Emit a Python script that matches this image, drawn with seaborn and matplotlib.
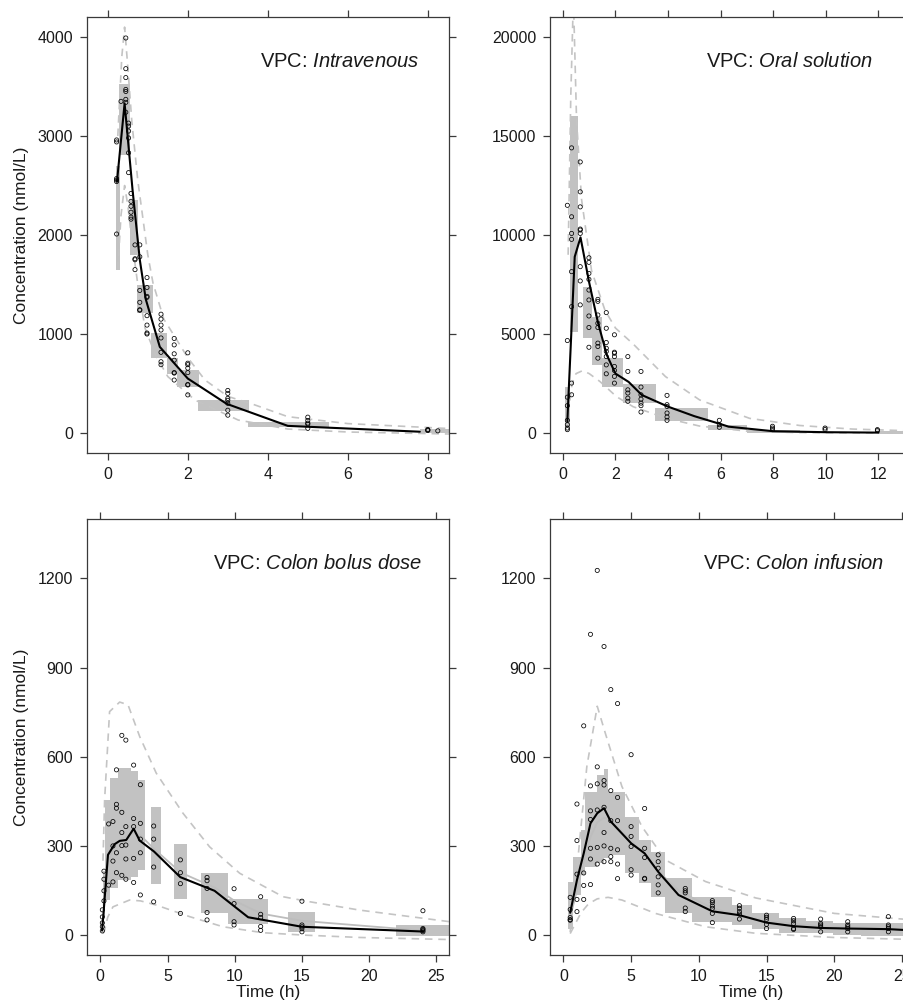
import pandas as pd
import seaborn as sns
import matplotlib.pyplot as plt

# ---------------- Intravenous ----------------
iv_obs_time = [0.22, 0.33, 0.45, 0.52, 0.58, 0.68, 0.8, 0.98, 1.33, 1.66, 2.0, 3.0, 5.0, 8.0, 8.25]
iv_obs_conc = [[2960, 2940, 2570, 2555, 2540, 2010], [3350],
               [3990, 3680, 3590, 3470, 3450, 3370, 3340, 3240],
               [3130, 3100, 3050, 2980, 2830, 2630], [2420, 2340, 2290, 2230, 2180, 2160],
               [1900, 1760, 1750, 1650], [1900, 1780, 1440, 1320, 1245, 1240],
               [1570, 1470, 1380, 1370, 1185, 1090, 1010, 1000],
               [1200, 1150, 1090, 1040, 960, 815, 720, 690],
               [955, 890, 800, 735, 610, 605, 535],
               [810, 705, 690, 655, 610, 490, 485, 385],
               [430, 400, 350, 330, 300, 230, 180], [160, 125, 100, 90, 47], [35, 30, 25], [22]]
iv_med_time = [0.23, 0.42, 0.62, 0.8, 0.95, 1.3, 2.0, 2.97, 4.5, 7.8]
iv_med_conc = [2540, 3330, 2450, 1750, 1350, 870, 550, 295, 72, 13]
iv_hi_time = [0.25, 0.35, 0.42, 0.5, 0.6, 0.75, 1.0, 1.13, 1.4, 1.68, 2.0, 2.43, 3.0, 3.68, 4.5, 6.0, 8.53]
iv_hi_conc = [3000, 3800, 4100, 3700, 3150, 2550, 1800, 1515, 1150, 970, 760, 535, 370, 283, 165, 95, 45]
iv_lo_time = [0.25, 0.33, 0.42, 0.5, 0.6, 0.75, 0.93, 1.2, 1.5, 2.18, 3.26, 4.5, 6.0, 8.53]
iv_lo_conc = [1650, 2200, 2500, 2300, 1950, 1500, 1060, 780, 570, 333, 131, 40, 10, -10]
iv_bin_left = [0.2, 0.28, 0.55, 0.73, 1.07, 1.47, 1.74, 2.26, 3.5, 7.8]
iv_bin_right = [0.3, 0.55, 0.75, 1.12, 1.49, 1.76, 2.28, 3.52, 5.52, 8.6]
iv_bin_low = [1650, 2810, 1800, 1210, 755, 596, 460, 225, 64, 0]
iv_bin_high = [2700, 3525, 2350, 1495, 1007, 757, 636, 333, 114, 37]

# ---------------- Oral solution ----------------
os_obs_time = [0.17, 0.33, 0.66, 0.99, 1.33, 1.65, 1.96, 2.47, 2.97, 3.96, 5.95, 7.97, 9.97, 11.96]
os_obs_conc = [[170, 250, 420, 640, 1380, 1810, 4670, 11500],
               [14400, 10920, 10080, 9780, 8150, 6380, 2520, 1930],
               [13690, 12180, 11420, 10300, 10250, 10080, 8400, 7680, 6470],
               [8850, 8620, 8060, 7760, 7220, 6720, 5910, 5330, 4330],
               [6750, 6650, 5960, 5540, 5330, 4540, 4370, 3780],
               [6080, 5290, 4570, 4280, 4120, 3860, 3440, 2990],
               [4960, 4080, 4030, 3860, 3360, 3160, 2860, 2520],
               [3860, 3110, 2180, 2020, 1760, 1600],
               [3110, 2320, 1930, 1710, 1510, 1380, 1060],
               [1900, 1430, 1340, 1010, 810, 640],
               [640, 420, 290], [340, 250, 170], [250, 170], [170, 120]]
os_med_time = [0.17, 0.45, 0.67, 1.0, 1.33, 1.67, 2.0, 2.5, 3.0, 4.0, 5.0, 6.0, 6.3, 8.0, 10.0, 12.0]
os_med_conc = [600, 8900, 9880, 7600, 5600, 3940, 3000, 2580, 1920, 1330, 850, 450, 320, 90, 40, 20]
os_hi_time = [0.2, 0.3, 0.4, 0.52, 0.71, 1.09, 1.6, 2.0, 2.67, 3.9, 5.2, 7.1, 9.0, 11.0, 13.2]
os_hi_conc = [9000, 17000, 22000, 15800, 11800, 8200, 6200, 5300, 4500, 2850, 1670, 740, 380, 200, 110]
os_lo_time = [0.17, 0.25, 0.35, 0.5, 0.75, 1.0, 1.41, 2.04, 2.67, 3.94, 5.2, 7.1, 9.0, 13.2]
os_lo_conc = [300, 1500, 2500, 3000, 3150, 3000, 2600, 1835, 1330, 740, 350, 80, 20, 0]
os_bin_left = [0.08, 0.28, 0.75, 1.11, 1.5, 2.28, 3.5, 5.5, 7.0, 12.0]
os_bin_right = [0.28, 0.56, 1.11, 1.5, 2.28, 3.53, 5.5, 7.0, 9.0, 13.2]
os_bin_low = [300, 5120, 4780, 3430, 2300, 1500, 620, 150, 20, -50]
os_bin_high = [2300, 16000, 7390, 5880, 3800, 2480, 1250, 400, 150, 80]

# ---------------- Colon bolus dose ----------------
cb_obs_time = [0.15, 0.27, 0.62, 0.94, 1.2, 1.6, 1.9, 2.48, 2.98, 3.97, 5.96, 7.94, 9.95, 11.93, 15.0, 24.0]
cb_obs_conc = [[85, 61, 41, 28, 14], [215, 188, 149, 115], [374, 168], [382, 300, 249, 179],
               [556, 440, 427, 277, 210], [672, 413, 345, 301, 201], [656, 365, 303, 256, 188],
               [572, 392, 365, 258, 177], [506, 376, 323, 277, 135], [367, 323, 229, 112],
               [253, 210, 173, 73], [194, 183, 157, 76, 51], [156, 106, 45, 34],
               [129, 70, 59, 29, 16], [114, 34, 28, 22, 11], [82, 22, 19, 15, 11]]
cb_med_time = [0.13, 0.25, 0.57, 1.07, 1.44, 1.93, 2.48, 2.93, 4.0, 5.95, 8.5, 11.0, 12.0, 15.0, 24.0]
cb_med_conc = [15, 80, 270, 306, 317, 320, 358, 318, 281, 195, 149, 60, 52, 28, 12]
cb_sim_time = [0.25, 0.57, 1.07, 1.5, 2.0, 2.5, 3.0, 4.0, 6.0, 8.5, 10.0, 12.0, 15.0, 24.0]
cb_sim_conc = [100, 250, 300, 320, 335, 345, 335, 290, 210, 160, 115, 72, 48, 15]
cb_hi_time = [0.2, 0.32, 0.69, 1.44, 2.06, 2.93, 4.16, 6.15, 8.13, 10.37, 13.6, 15.6, 19.3, 26.0]
cb_hi_conc = [250, 455, 752, 784, 775, 668, 545, 410, 297, 208, 129, 112, 84, 45]
cb_lo_time = [0.2, 0.32, 0.55, 0.94, 2.18, 3.0, 4.16, 6.65, 9.13, 12.1, 15.1, 19.3, 26.0]
cb_lo_conc = [5, 17, 60, 95, 118, 115, 101, 62, 28, 8, 0, -8, -15]
cb_bin_left = [0.17, 0.35, 0.75, 1.31, 2.26, 2.8, 3.74, 5.46, 7.5, 9.47, 14.0, 22.0]
cb_bin_right = [0.35, 0.75, 1.31, 2.26, 2.8, 3.3, 4.54, 6.47, 9.47, 12.48, 16.0, 26.0]
cb_bin_low = [60, 118, 157, 185, 194, 219, 172, 122, 73, 36, 11, -3]
cb_bin_high = [215, 455, 528, 561, 553, 522, 432, 306, 208, 120, 77, 34]

# ---------------- Colon infusion ----------------
ci_obs_time = [0.5, 1.0, 1.5, 2.0, 2.5, 3.0, 3.5, 4.0, 5.0, 6.0, 7.0, 9.0, 11.0, 13.0, 15.0, 17.0, 19.0, 21.0, 24.0]
ci_obs_conc = [[127, 86, 59, 52, 50], [441, 318, 205, 120, 79], [704, 209, 167, 120],
               [1012, 502, 418, 389, 292, 256, 170], [1227, 566, 509, 421, 295, 239],
               [971, 520, 505, 430, 345, 300, 247], [826, 486, 385, 292, 264, 247],
               [779, 463, 385, 287, 239, 190], [607, 365, 332, 298, 220, 202],
               [426, 292, 261, 191, 189], [270, 247, 225, 196, 169, 142],
               [157, 149, 142, 91, 79], [116, 109, 98, 90, 73, 42], [99, 90, 79, 71, 54],
               [67, 60, 53, 36, 22], [56, 48, 39, 22, 19], [54, 39, 34, 28, 11],
               [45, 34, 28, 22, 11], [62, 34, 28, 22, 11]]
ci_med_time = [0.5, 1.0, 1.5, 2.0, 2.5, 3.0, 3.5, 5.0, 6.0, 7.0, 8.5, 11.0, 13.0, 15.0, 17.0, 19.0, 21.0, 24.0, 26.5]
ci_med_conc = [75, 185, 275, 376, 410, 427, 382, 309, 275, 213, 135, 80, 67, 42, 30, 24, 22, 20, 14]
ci_sim_time = [0.5, 1.0, 1.5, 2.0, 2.5, 3.0, 3.5, 5.0, 6.0, 7.0, 8.5, 11.0, 13.0, 15.0, 17.0, 19.0, 21.0, 24.0, 28.7]
ci_sim_conc = [60, 150, 250, 330, 380, 395, 385, 320, 270, 215, 150, 90, 65, 48, 38, 30, 26, 22, 18]
ci_hi_time = [0.5, 1.11, 1.73, 2.5, 3.09, 4.32, 5.8, 7.53, 10.5, 14.2, 20.0, 28.7]
ci_hi_conc = [10, 275, 567, 770, 680, 500, 365, 253, 180, 125, 73, 40]
ci_lo_time = [0.5, 0.9, 1.3, 1.85, 2.5, 3.3, 4.32, 6.79, 10.5, 14.2, 20.0, 28.7]
ci_lo_conc = [5, 40, 75, 105, 122, 127, 118, 73, 28, 6, -8, -18]
ci_bin_left = [0.37, 0.69, 1.31, 1.6, 2.47, 3.0, 3.33, 4.57, 5.56, 6.47, 7.53, 9.5, 12.47, 13.95, 15.9, 17.9, 19.9, 22.0]
ci_bin_right = [0.69, 1.31, 1.6, 2.47, 3.0, 3.33, 4.57, 5.56, 6.47, 7.53, 9.5, 12.47, 13.95, 15.9, 17.9, 19.9, 22.0, 28.7]
ci_bin_low = [22, 135, 202, 230, 241, 258, 269, 208, 174, 129, 75, 45, 34, 19, 8, 6, 0, -3]
ci_bin_high = [180, 264, 354, 483, 539, 558, 483, 399, 320, 281, 191, 129, 101, 73, 56, 48, 39, 39]

W, H = 904, 1002
BOX_GREY = "#c2c2c2"
DASH_GREY = "#c4c4c4"
AXIS_COL = "#3a3a3a"

sns.set_theme(style="ticks")
plt.rcParams["font.family"] = ["Liberation Sans", "DejaVu Sans"]
plt.rcParams["mathtext.fontset"] = "custom"
plt.rcParams["mathtext.it"] = "Liberation Sans:italic"
plt.rcParams["mathtext.rm"] = "Liberation Sans"

fig = plt.figure(figsize=(W / 100, H / 100), dpi=100)


def px_axes(left, top, right, bottom):
    return fig.add_axes([left / W, 1 - bottom / H, (right - left) / W, (bottom - top) / H])


def draw_vpc(ax, obs_t, obs_c, med_t, med_c, hi_t, hi_c, lo_t, lo_c,
             bl, br, blo, bhi, sim_t=None, sim_c=None):
    # simulated CI of median per bin
    ax.bar(bl, [h - lo for h, lo in zip(bhi, blo)],
           width=[r - l for l, r in zip(bl, br)], bottom=blo, align="edge",
           color=BOX_GREY, linewidth=0, zorder=1)
    # simulated prediction interval
    for tt, cc in [(hi_t, hi_c), (lo_t, lo_c)]:
        sns.lineplot(x=tt, y=cc, ax=ax, sort=False, estimator=None, color=DASH_GREY,
                     linewidth=1.2, linestyle=(0, (4.5, 3.5)), zorder=2)
    if sim_t is not None:
        sns.lineplot(x=sim_t, y=sim_c, ax=ax, sort=False, estimator=None,
                     color="#bdbdbd", linewidth=1.3, zorder=2)
    df = pd.DataFrame({"t": [t for t, cs in zip(obs_t, obs_c) for _ in cs],
                       "c": [c for cs in obs_c for c in cs]})
    sns.scatterplot(data=df, x="t", y="c", ax=ax, marker="o", s=9,
                    facecolor="none", edgecolor="black", linewidth=0.55, zorder=4)
    sns.lineplot(x=med_t, y=med_c, ax=ax, sort=False, estimator=None,
                 color="black", linewidth=1.5, zorder=3)


def style_axes(ax, xlim, ylim, xticks, yticks, title, tx, xlab, ylab):
    ax.set_xlim(*xlim)
    ax.set_ylim(*ylim)
    ax.set_xticks(xticks)
    ax.set_yticks(yticks)
    ax.tick_params(axis="both", which="both", direction="out", length=5, width=0.9,
                   color=AXIS_COL, labelcolor="#1a1a1a", labelsize=11.5, pad=5,
                   top=True, right=True, labeltop=False, labelright=False)
    for s in ax.spines.values():
        s.set_visible(True)
        s.set_color(AXIS_COL)
        s.set_linewidth(0.9)
    ax.set_xlabel("Time (h)" if xlab else "", fontsize=12.5, color="#1a1a1a")
    ax.set_ylabel("Concentration (nmol/L)" if ylab else "", fontsize=12.5, color="#1a1a1a")
    ax.xaxis.set_label_coords(0.5, -0.068)
    ax.yaxis.set_label_coords(-0.16, 0.5)
    ax.text(tx, 0.897, title, transform=ax.transAxes, ha="right", va="center",
            fontsize=14.5, color="#1a1a1a")


ax1 = px_axes(87, 17, 449, 453)
draw_vpc(ax1, iv_obs_time, iv_obs_conc, iv_med_time, iv_med_conc, iv_hi_time, iv_hi_conc,
         iv_lo_time, iv_lo_conc, iv_bin_left, iv_bin_right, iv_bin_low, iv_bin_high)
style_axes(ax1, (-0.52, 8.53), (-202, 4202), [0, 2, 4, 6, 8], [0, 1000, 2000, 3000, 4000],
           r"VPC: $\mathit{Intravenous}$", 0.917, False, True)

ax2 = px_axes(550, 17, 910, 453)
draw_vpc(ax2, os_obs_time, os_obs_conc, os_med_time, os_med_conc, os_hi_time, os_hi_conc,
         os_lo_time, os_lo_conc, os_bin_left, os_bin_right, os_bin_low, os_bin_high)
style_axes(ax2, (-0.49, 13.2), (-1010, 21010), [0, 2, 4, 6, 8, 10, 12],
           [0, 5000, 10000, 15000, 20000],
           r"VPC: $\mathit{Oral\ solution}$", 0.897, False, False)

ax3 = px_axes(87, 519, 449, 955)
draw_vpc(ax3, cb_obs_time, cb_obs_conc, cb_med_time, cb_med_conc, cb_hi_time, cb_hi_conc,
         cb_lo_time, cb_lo_conc, cb_bin_left, cb_bin_right, cb_bin_low, cb_bin_high,
         cb_sim_time, cb_sim_conc)
style_axes(ax3, (-0.99, 25.94), (-67, 1400), [0, 5, 10, 15, 20, 25], [0, 300, 600, 900, 1200],
           r"VPC: $\mathit{Colon\ bolus\ dose}$", 0.925, True, True)

ax4 = px_axes(550, 519, 952, 955)
draw_vpc(ax4, ci_obs_time, ci_obs_conc, ci_med_time, ci_med_conc, ci_hi_time, ci_hi_conc,
         ci_lo_time, ci_lo_conc, ci_bin_left, ci_bin_right, ci_bin_low, ci_bin_high,
         ci_sim_time, ci_sim_conc)
style_axes(ax4, (-0.99, 28.7), (-67, 1400), [0, 5, 10, 15, 20, 25], [0, 300, 600, 900, 1200],
           r"VPC: $\mathit{Colon\ infusion}$", 0.831, True, False)

fig.savefig("out.png", dpi=100)
